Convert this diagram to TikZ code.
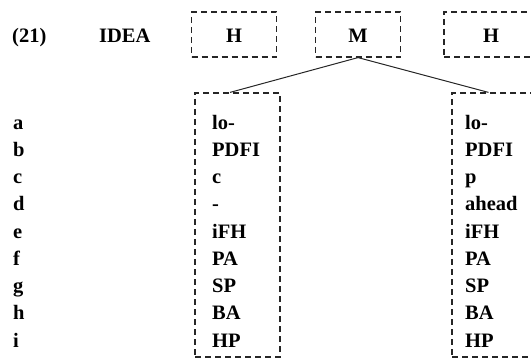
\documentclass[tikz,border=0pt]{standalone}
\usepackage{fontspec}
\setmainfont{Liberation Serif}
\begin{document}
\begin{tikzpicture}[x=1pt,y=-1pt,
  txt/.style={anchor=base west,inner sep=0pt,font=\fontsize{20.5}{24}\selectfont\bfseries},
  dbox/.style={draw=black!85,line width=1.2pt,dash pattern=on 6pt off 4pt,
    minimum width=85pt,inner sep=0pt,font=\fontsize{20.5}{24}\selectfont\bfseries},
  headbox/.style={dbox,minimum height=45pt,text height=17pt,text depth=0pt},
  link/.style={draw=black!85,line width=1pt}]
\useasboundingbox (0,0) rectangle (531,361);
\clip (0,0) rectangle (531,361);
% heading row
\node[txt] (num) at (12,43) {(21)};
\node[txt] (idea) at (99,43) {IDEA};
\node[headbox] (h1) at (234,34.5) {H};
\node[headbox] (m) at (358,34.5) {M};
\node[headbox,minimum width=94pt] (h2) at (491,34.5) {H};
% feature columns
\node[dbox,minimum height=264pt] (lbox) at (237.5,225) {};
\node[dbox,minimum height=264pt] (rbox) at (494.5,225) {};
\draw[link] (m.south) -- ([xshift=-7.5pt]lbox.north);
\draw[link] (m.south) -- ([xshift=-6pt]rbox.north);
% row letters and column entries
\foreach \r/\p/\q [count=\i from 0] in {a/lo-/lo-, b/PDFI/PDFI, c/c/p, d/-/ahead,
    e/iFH/iFH, f/PA/PA, g/SP/SP, h/BA/BA, i/HP/HP}{
  \node[txt] (row\r) at (13,129+27.25*\i) {\r};
  \node[txt] (lc\r) at (212,129+27.25*\i) {\p};
  \node[txt] (rc\r) at (465,129+27.25*\i) {\q};
}
\end{tikzpicture}
\end{document}
